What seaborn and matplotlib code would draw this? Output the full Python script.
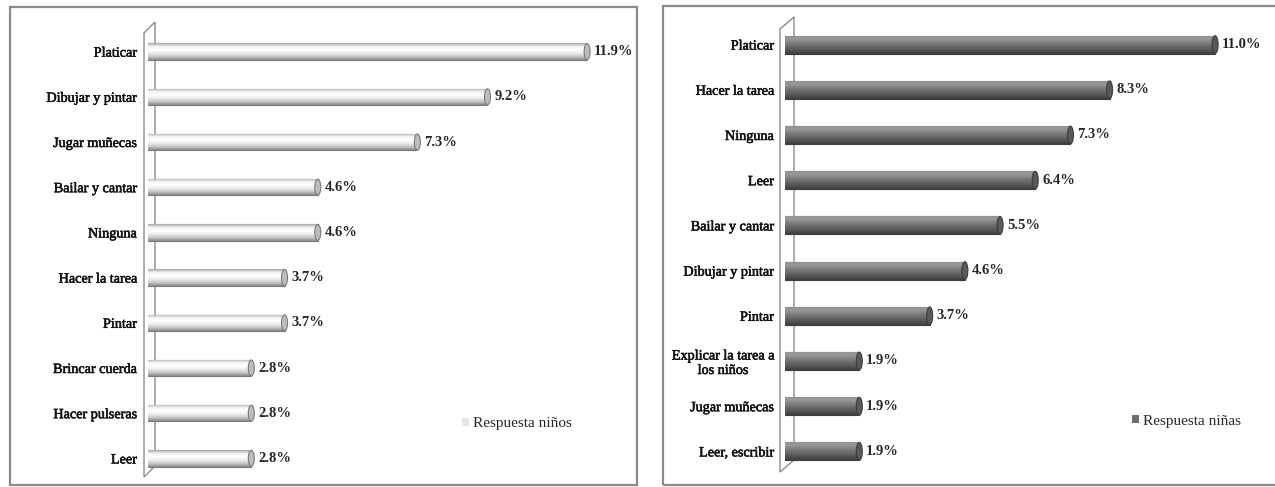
import numpy as np
import pandas as pd
import matplotlib
matplotlib.use("Agg")
import matplotlib.pyplot as plt
import matplotlib.patheffects as pe
import seaborn as sns
from matplotlib.patches import Polygon, Rectangle, Ellipse, Patch
from matplotlib.colors import LinearSegmentedColormap

# ---- data -------------------------------------------------------------
ninos_cats = ["Platicar", "Dibujar y pintar", "Jugar muñecas", "Bailar y cantar",
              "Ninguna", "Hacer la tarea", "Pintar", "Brincar cuerda",
              "Hacer pulseras", "Leer"]
ninos_vals = [11.9, 9.2, 7.3, 4.6, 4.6, 3.7, 3.7, 2.8, 2.8, 2.8]

ninas_cats = ["Platicar", "Hacer la tarea", "Ninguna", "Leer", "Bailar y cantar",
              "Dibujar y pintar", "Pintar", "Explicar la tarea a\nlos niños",
              "Jugar muñecas", "Leer, escribir"]
ninas_vals = [11.0, 8.3, 7.3, 6.4, 5.5, 4.6, 3.7, 1.9, 1.9, 1.9]

legend_ninos = "Respuesta niños"
legend_ninas = "Respuesta niñas"

# ---- figure -----------------------------------------------------------
W, H = 1275, 487
sns.set_theme(style="white")
plt.rcParams["font.family"] = ["Liberation Serif", "DejaVu Serif"]
fig = plt.figure(figsize=(W / 100, H / 100), dpi=100)
fig.patch.set_facecolor("white")


def fx(x):
    return x / W


def fy(y):
    return 1 - y / H


def add_axes_px(x0, y0, x1, y1):
    return fig.add_axes([fx(x0), fy(y1), fx(x1) - fx(x0), fy(y0) - fy(y1)])


def panel(ax, cats, vals, px_per_unit, width_px, bar_h, base, cmap_colors,
          edge, cap, wall, label, legend_xy):
    df = pd.DataFrame({"cat": cats, "val": vals})
    sns.barplot(data=df, x="val", y="cat", orient="h", color=base,
                edgecolor=edge, linewidth=0.8, width=bar_h, ax=ax)
    ax.set_xlim(0, width_px / px_per_unit)
    ax.set_ylim(len(cats) - 0.5, -0.5)

    # side wall of the pseudo-3D chart, behind the bars
    wx0, wx1, wtop, wbot, slant = wall
    pts = [(wx0, wtop + slant), (wx1, wtop), (wx1, wbot - slant), (wx0, wbot)]
    ax.add_patch(Polygon([(fx(a), fy(b)) for a, b in pts], closed=True,
                         transform=fig.transFigure, facecolor="white",
                         edgecolor="#8c8c8c", linewidth=1.0, clip_on=False,
                         zorder=0.2))

    # cylinder shading for every bar plus a rounded end cap
    cmap = LinearSegmentedColormap.from_list("cyl", cmap_colors)
    grad = np.linspace(0, 1, 64).reshape(-1, 1)
    cap_w = 6 / px_per_unit
    bars = [p for p in ax.patches if isinstance(p, Rectangle)]
    for p in bars:
        p.set_zorder(2.0)
        x0, y0 = p.get_x(), p.get_y()
        w, h = p.get_width(), p.get_height()
        im = ax.imshow(grad, cmap=cmap, aspect="auto", origin="upper",
                       extent=(x0, x0 + w, y0 + h, y0), zorder=2.1,
                       interpolation="bilinear")
        im.set_clip_path(p)
        ax.add_patch(Ellipse((x0 + w, y0 + h / 2), cap_w, h * 0.98,
                             facecolor=cap, edgecolor=edge, linewidth=0.8,
                             zorder=2.2))
    ax.set_xlim(0, width_px / px_per_unit)
    ax.set_ylim(len(cats) - 0.5, -0.5)

    for i, v in enumerate(vals):
        ax.annotate(f"{v:.1f}%", (v, i), xytext=(5, 0), textcoords="offset points",
                    va="center", ha="left", fontsize=10.5, color="#262626",
                    fontweight="bold", zorder=3)

    ax.set_xlabel("")
    ax.set_ylabel("")
    ax.set_xticks([])
    ax.tick_params(axis="y", length=0, pad=8, labelsize=10.2, labelcolor="#111111")
    for t in ax.get_yticklabels():
        t.set_linespacing(1.15)
        t.set_multialignment("center")
        t.set_path_effects([pe.withStroke(linewidth=0.4, foreground="#111111")])
    for s in ax.spines.values():
        s.set_visible(False)
    ax.patch.set_alpha(0)

    lx, ly = legend_xy
    ax.legend(handles=[Patch(facecolor=base, edgecolor="none", label=label)],
              loc="center left", bbox_to_anchor=(fx(lx), fy(ly)),
              bbox_transform=fig.transFigure, frameon=False, fontsize=11,
              handlelength=0.45, handleheight=0.45, handletextpad=0.25,
              borderaxespad=0, borderpad=0, labelcolor="#262626")


# panel frames
fig.add_artist(Rectangle((fx(10), fy(485)), fx(637) - fx(10), fy(7) - fy(485),
                         transform=fig.transFigure, facecolor="none",
                         edgecolor="#8a8a8a", linewidth=1.6, zorder=5))
fig.add_artist(Rectangle((fx(663), fy(485)), fx(1290) - fx(663), fy(6) - fy(485),
                         transform=fig.transFigure, facecolor="none",
                         edgecolor="#8a8a8a", linewidth=1.6, zorder=5))

ax1 = add_axes_px(148, 29, 630, 481)
panel(ax1, ninos_cats, ninos_vals, px_per_unit=36.9, width_px=482, bar_h=0.36,
      base="#e6e6e6",
      cmap_colors=["#a8a8a8", "#f4f4f4", "#ffffff", "#ececec", "#c8c8c8", "#8a8a8a"],
      edge="#7a7a7a", cap="#bdbdbd", wall=(144, 155, 22, 477, 11),
      label=legend_ninos, legend_xy=(462, 424))

ax2 = add_axes_px(785, 22, 1270, 474)
panel(ax2, ninas_cats, ninas_vals, px_per_unit=39.1, width_px=485, bar_h=0.40,
      base="#6e6e6e",
      cmap_colors=["#8e8e8e", "#9a9a9a", "#808080", "#6a6a6a", "#555555", "#3e3e3e"],
      edge="#3c3c3c", cap="#595959", wall=(780, 794, 17, 472, 12),
      label=legend_ninas, legend_xy=(1132, 421))

fig.savefig("out.png", dpi=100, facecolor="white")
